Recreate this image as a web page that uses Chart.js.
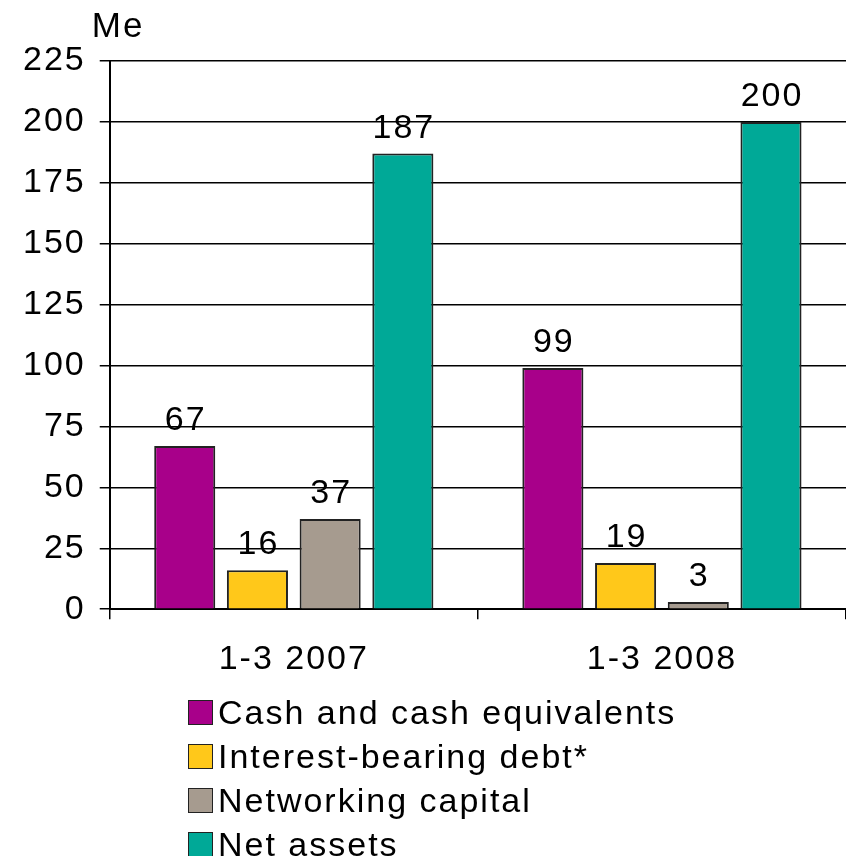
<!DOCTYPE html>
<html>
<head>
<meta charset="utf-8">
<script src="https://cdn.jsdelivr.net/npm/chart.js@4.4.1/dist/chart.umd.min.js"></script>
<style>
  body { margin: 0; background: #fff; }
  #wrap { position: relative; width: 846px; height: 856px; }
  #legend { position: absolute; left: 188px; top: 690px; font-family: "Liberation Sans", Arial, sans-serif; font-size: 34px; letter-spacing: 2px; color: #000; }
  .item { display: flex; align-items: center; height: 44px; }
  .box { width: 23px; height: 23px; border: 1.5px solid #222; margin-right: 5px; flex: none; }
</style>
</head>
<body>
<div id="wrap">
  <canvas id="myChart" width="846" height="856"></canvas>
  <div id="legend"></div>
</div>
<script>
const categories = ['1-3 2007', '1-3 2008'];
const seriesNames = ['Cash and cash equivalents', 'Interest-bearing debt*', 'Networking capital', 'Net assets'];
const cashValues = [67, 99];
const debtValues = [16, 19];
const capitalValues = [37, 3];
const assetValues = [187, 200];
const colors = ['#A8008A', '#FFC81A', '#A69B8F', '#00A997'];
const unitLabel = 'Me';

const FONT = '"Liberation Sans", Arial, sans-serif';
const SPACING = '2px';

const spacingPlugin = {
    id: 'spacing',
    beforeUpdate(chart) { chart.ctx.letterSpacing = SPACING; },
    beforeDraw(chart) { chart.ctx.letterSpacing = SPACING; }
};

// values above bars + unit label
const labelsPlugin = {
    id: 'barLabels',
    afterDatasetsDraw(chart) {
        const ctx = chart.ctx;
        ctx.save();
        ctx.letterSpacing = SPACING;
        ctx.fillStyle = '#000';
        ctx.font = '34px ' + FONT;
        ctx.textAlign = 'center';
        ctx.textBaseline = 'alphabetic';
        chart.data.datasets.forEach((ds, i) => {
            chart.getDatasetMeta(i).data.forEach((bar, j) => {
                ctx.fillText(String(ds.data[j]), bar.x + 1, bar.y - 16);
            });
        });
        ctx.font = '35px ' + FONT;
        ctx.textAlign = 'left';
        ctx.fillText(unitLabel, chart.chartArea.left - 18, 37);
        ctx.restore();
    }
};

const datasets = [cashValues, debtValues, capitalValues, assetValues].map((vals, i) => ({
    label: seriesNames[i],
    data: vals,
    backgroundColor: colors[i],
    borderColor: '#222',
    borderWidth: 2,
    categoryPercentage: 0.79,
    barPercentage: 0.84
}));

new Chart(document.getElementById('myChart').getContext('2d'), {
    type: 'bar',
    data: { labels: categories, datasets: datasets },
    options: {
        responsive: false,
        animation: false,
        layout: { padding: { left: 9, right: 0, top: 61, bottom: 156 } },
        plugins: { legend: { display: false }, tooltip: { enabled: false } },
        scales: {
            x: {
                grid: { drawOnChartArea: false, color: '#000', lineWidth: 1.5, tickLength: 10 },
                border: { color: '#000', width: 2 },
                ticks: { color: '#000', font: { family: FONT, size: 34 }, padding: 20 }
            },
            y: {
                min: 0,
                max: 225,
                ticks: { stepSize: 25, color: '#000', font: { family: FONT, size: 34 }, padding: 14 },
                grid: { color: '#000', lineWidth: 1.5, tickLength: 10 },
                border: { color: '#000', width: 2 }
            }
        }
    },
    plugins: [spacingPlugin, labelsPlugin]
});

const legend = document.getElementById('legend');
seriesNames.forEach((name, i) => {
    const row = document.createElement('div');
    row.className = 'item';
    const box = document.createElement('span');
    box.className = 'box';
    box.style.background = colors[i];
    const txt = document.createElement('span');
    txt.textContent = name;
    row.appendChild(box);
    row.appendChild(txt);
    legend.appendChild(row);
});
</script>
</body>
</html>
